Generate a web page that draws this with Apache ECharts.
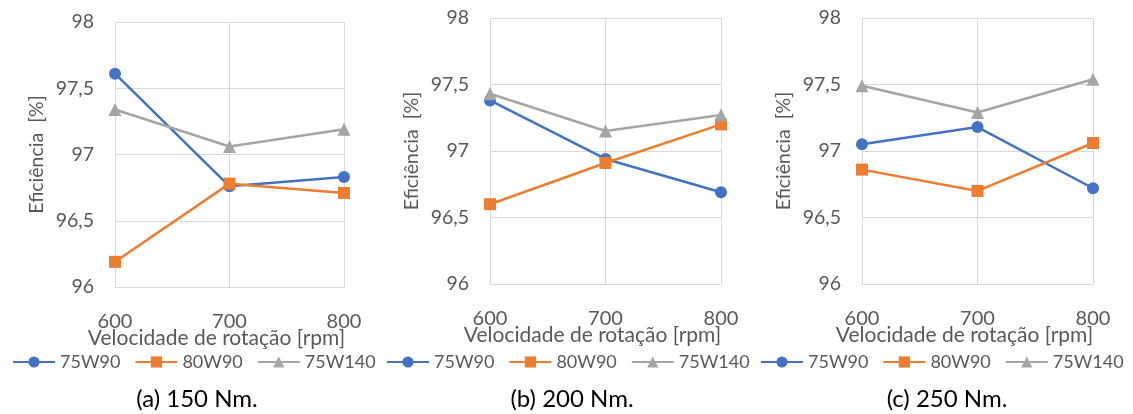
<!DOCTYPE html>
<html><head><meta charset="utf-8">
<script src="https://cdn.jsdelivr.net/npm/echarts@6/dist/echarts.min.js"></script>
<style>html,body{margin:0;padding:0;background:#fff}#c{width:1133px;height:414px}</style>
</head><body><div id="c"></div>
<script>
const categories = ['600', '700', '800'];
const seriesNames = ['75W90', '80W90', '75W140'];
const yTicks = [96, 96.5, 97, 97.5, 98];
const captions = ['(a) 150 Nm.', '(b) 200 Nm.', '(c) 250 Nm.'];
// panel (a) 150 Nm
const a_75W90 = [97.61, 96.76, 96.83];
const a_80W90 = [96.19, 96.78, 96.71];
const a_75W140 = [97.34, 97.06, 97.19];
// panel (b) 200 Nm
const b_75W90 = [97.38, 96.94, 96.69];
const b_80W90 = [96.60, 96.91, 97.20];
const b_75W140 = [97.43, 97.15, 97.27];
// panel (c) 250 Nm
const c_75W90 = [97.05, 97.18, 96.72];
const c_80W90 = [96.86, 96.70, 97.06];
const c_75W140 = [97.49, 97.29, 97.54];

const panels = [[a_75W90, a_80W90, a_75W140], [b_75W90, b_80W90, b_75W140], [c_75W90, c_80W90, c_75W140]];
const colors = ['#4472C4', '#ED7D31', '#A5A5A5'];
const symbols = ['circle', 'rect', 'triangle'];
const FONT = 'Lato';
const TXT = '#595959';

const grids = [
  {left: 115, top: 22, width: 229, height: 265},
  {left: 490, top: 18, width: 231, height: 266},
  {left: 862, top: 18, width: 231, height: 266}
];
const legendLeft = [10, 384, 758];
const captionX = [192, 567, 942];

const chart = echarts.init(document.getElementById('c'), null, {renderer: 'canvas'});
const option = {
  animation: false,
  textStyle: {fontFamily: FONT},
  grid: grids,
  xAxis: grids.map((g, i) => ({
    gridIndex: i, type: 'category', data: categories, boundaryGap: false,
    axisLine: {lineStyle: {color: '#D9D9D9', width: 1}},
    axisTick: {show: false},
    axisLabel: {color: TXT, fontSize: 20, margin: 25, fontFamily: FONT},
    splitLine: {show: true, lineStyle: {color: '#D9D9D9', width: 1}},
    name: 'Velocidade de rotação [rpm]', nameLocation: 'middle', nameGap: 41,
    nameMoveOverlap: false,
    nameTextStyle: {color: TXT, fontSize: 21, fontFamily: FONT, padding: [0, 26, 0, 0]}
  })),
  yAxis: grids.map((g, i) => ({
    gridIndex: i, type: 'value', min: yTicks[0], max: yTicks[yTicks.length - 1], interval: 0.5,
    axisLine: {show: false}, axisTick: {show: false},
    axisLabel: {color: TXT, fontSize: 19.5, margin: 21, fontFamily: FONT,
      formatter: v => String(v).replace('.', ',')},
    splitLine: {show: true, lineStyle: {color: '#D9D9D9', width: 1}},
    name: 'Eficiência  [%]', nameLocation: 'middle', nameGap: 68, nameRotate: 90,
    nameMoveOverlap: false,
    nameTextStyle: {color: TXT, fontSize: 19.5, fontFamily: FONT}
  })),
  legend: legendLeft.map((l, i) => ({
    left: l, top: 351, width: 380, data: seriesNames, itemWidth: 42, itemHeight: 14, itemGap: 14,
    padding: 2,
    textStyle: {color: TXT, fontSize: 18, fontFamily: FONT}, selectedMode: false
  })),
  title: captions.map((t, i) => ({
    text: t, left: captionX[i], top: 382, textAlign: 'center',
    textStyle: {color: '#000', fontSize: 24, fontWeight: 'normal', fontFamily: FONT}
  })),
  series: []
};
panels.forEach((p, pi) => {
  p.forEach((vals, si) => {
    option.series.push({
      type: 'line', name: seriesNames[si], xAxisIndex: pi, yAxisIndex: pi, data: vals,
      symbol: symbols[si], symbolSize: si === 2 ? 13 : 12,
      lineStyle: {color: colors[si], width: 2.5},
      itemStyle: {color: colors[si]}
    });
  });
});
chart.setOption(option);
</script></body></html>
